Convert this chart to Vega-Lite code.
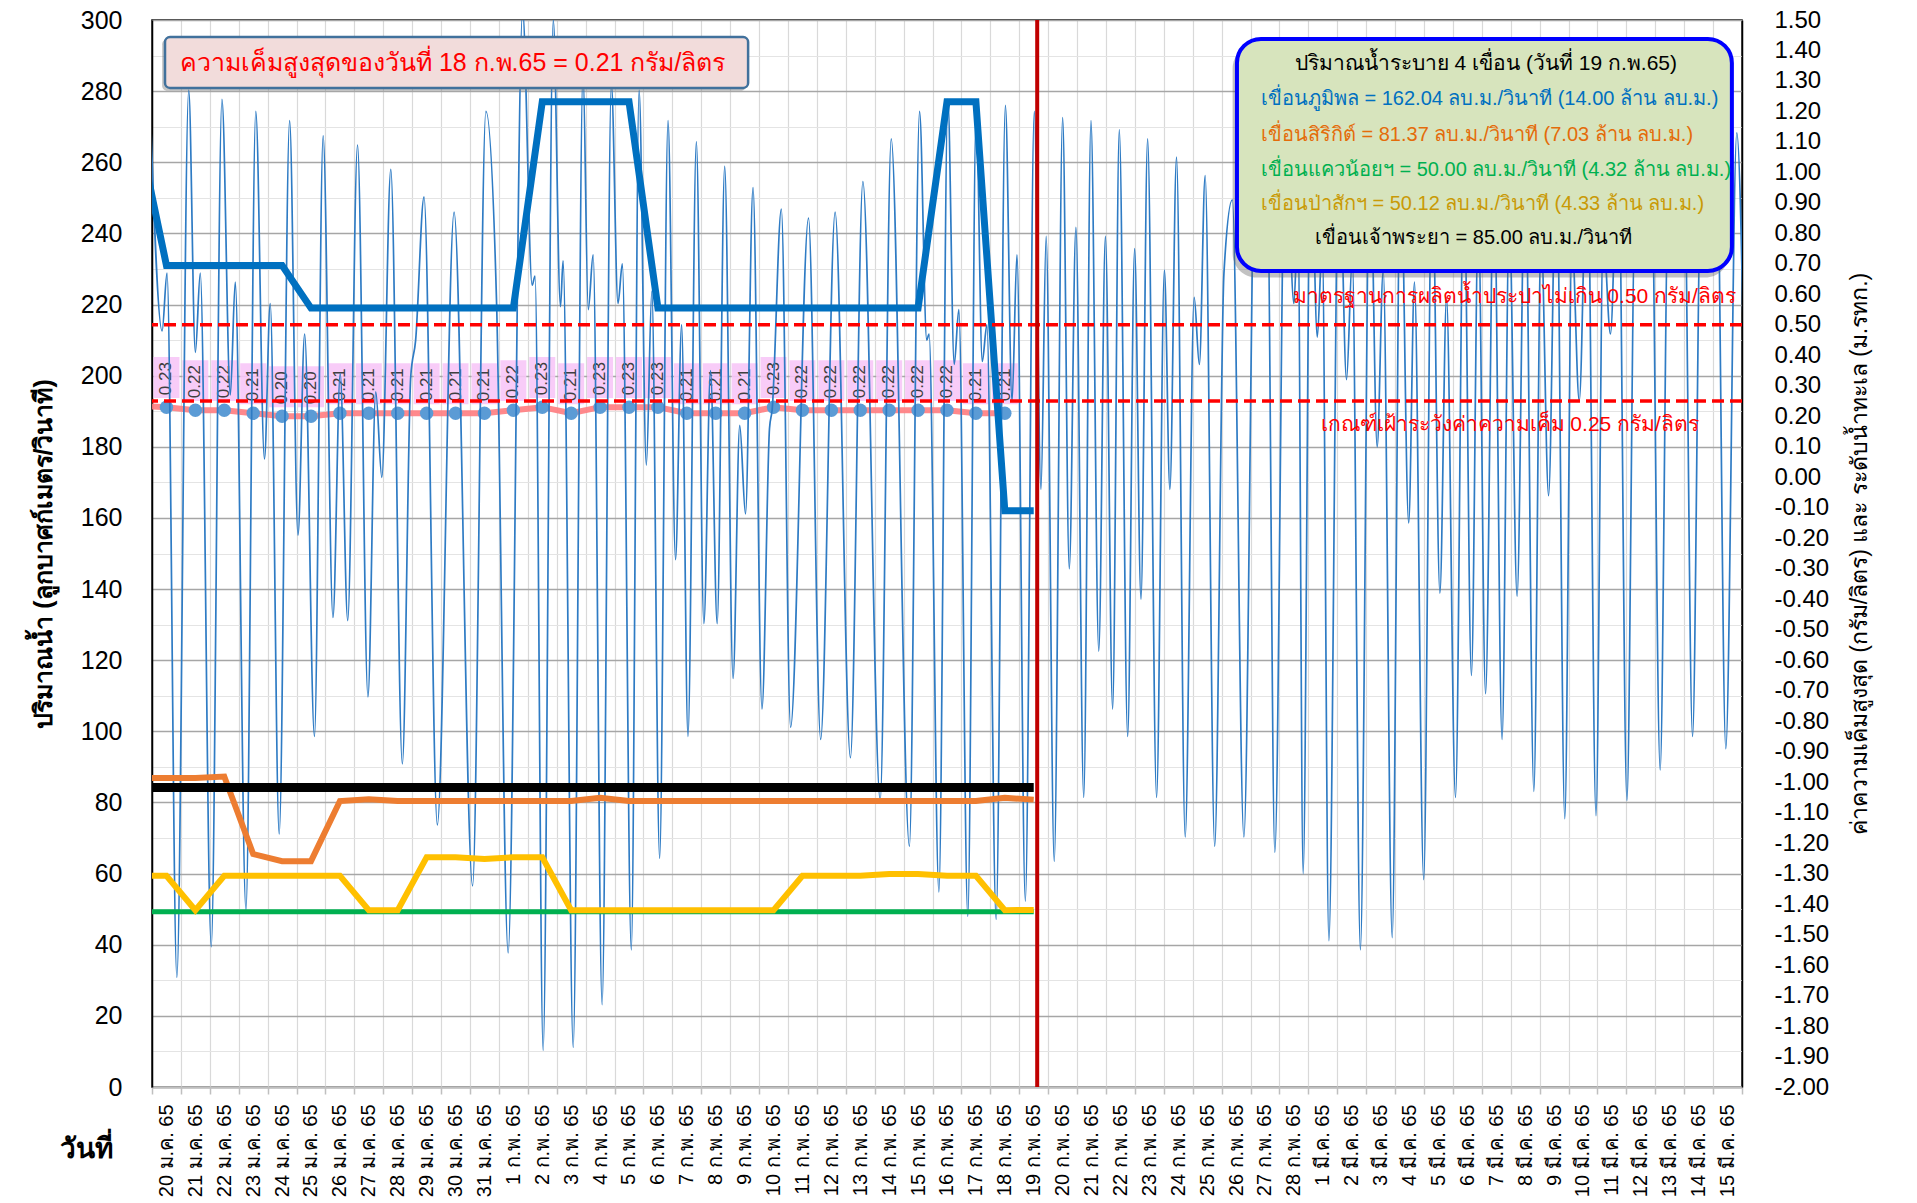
{
  "$schema": "https://vega.github.io/schema/vega-lite/v6.json",
  "width": 1590,
  "height": 1067,
  "autosize": {"type": "none"},
  "padding": {"left": 152, "top": 20, "right": 175, "bottom": 116},
  "background": "white",
  "config": {
    "font": "Liberation Sans",
    "view": {"stroke": "#000", "strokeWidth": 1.5},
    "axis": {"labelFont": "Liberation Sans", "titleFont": "Liberation Sans", "labelOverlap": false, "labelFlush": false, "labelBound": false, "labelSeparation": 0}
  },
  "datasets": {
    "daily": [
      {"day": -0.5, "bp": 270, "sk": 86.9, "kn": 49.3, "ps": 59.4, "cp": 84.2, "sal": 0.235},
      {"day": 0.5, "bp": 231, "sk": 86.9, "kn": 49.3, "ps": 59.4, "cp": 84.2, "sal": 0.23},
      {"day": 1.5, "bp": 231, "sk": 86.9, "kn": 49.3, "ps": 49.7, "cp": 84.2, "sal": 0.22},
      {"day": 2.5, "bp": 231, "sk": 87.3, "kn": 49.3, "ps": 59.4, "cp": 84.2, "sal": 0.22},
      {"day": 3.5, "bp": 231, "sk": 65.5, "kn": 49.3, "ps": 59.4, "cp": 84.2, "sal": 0.21},
      {"day": 4.5, "bp": 231, "sk": 63.5, "kn": 49.3, "ps": 59.4, "cp": 84.2, "sal": 0.20},
      {"day": 5.5, "bp": 219, "sk": 63.5, "kn": 49.3, "ps": 59.4, "cp": 84.2, "sal": 0.20},
      {"day": 6.5, "bp": 219, "sk": 80.4, "kn": 49.3, "ps": 59.4, "cp": 84.2, "sal": 0.21},
      {"day": 7.5, "bp": 219, "sk": 80.9, "kn": 49.3, "ps": 49.7, "cp": 84.2, "sal": 0.21},
      {"day": 8.5, "bp": 219, "sk": 80.4, "kn": 49.3, "ps": 49.7, "cp": 84.2, "sal": 0.21},
      {"day": 9.5, "bp": 219, "sk": 80.4, "kn": 49.3, "ps": 64.6, "cp": 84.2, "sal": 0.21},
      {"day": 10.5, "bp": 219, "sk": 80.4, "kn": 49.3, "ps": 64.6, "cp": 84.2, "sal": 0.21},
      {"day": 11.5, "bp": 219, "sk": 80.4, "kn": 49.3, "ps": 64.1, "cp": 84.2, "sal": 0.21},
      {"day": 12.5, "bp": 219, "sk": 80.4, "kn": 49.3, "ps": 64.6, "cp": 84.2, "sal": 0.22},
      {"day": 13.5, "bp": 277, "sk": 80.4, "kn": 49.3, "ps": 64.6, "cp": 84.2, "sal": 0.23},
      {"day": 14.5, "bp": 277, "sk": 80.4, "kn": 49.3, "ps": 49.7, "cp": 84.2, "sal": 0.21},
      {"day": 15.5, "bp": 277, "sk": 81.3, "kn": 49.3, "ps": 49.7, "cp": 84.2, "sal": 0.23},
      {"day": 16.5, "bp": 277, "sk": 80.4, "kn": 49.3, "ps": 49.7, "cp": 84.2, "sal": 0.23},
      {"day": 17.5, "bp": 219, "sk": 80.4, "kn": 49.3, "ps": 49.7, "cp": 84.2, "sal": 0.23},
      {"day": 18.5, "bp": 219, "sk": 80.4, "kn": 49.3, "ps": 49.7, "cp": 84.2, "sal": 0.21},
      {"day": 19.5, "bp": 219, "sk": 80.4, "kn": 49.3, "ps": 49.7, "cp": 84.2, "sal": 0.21},
      {"day": 20.5, "bp": 219, "sk": 80.4, "kn": 49.3, "ps": 49.7, "cp": 84.2, "sal": 0.21},
      {"day": 21.5, "bp": 219, "sk": 80.4, "kn": 49.3, "ps": 49.7, "cp": 84.2, "sal": 0.23},
      {"day": 22.5, "bp": 219, "sk": 80.4, "kn": 49.3, "ps": 59.4, "cp": 84.2, "sal": 0.22},
      {"day": 23.5, "bp": 219, "sk": 80.4, "kn": 49.3, "ps": 59.4, "cp": 84.2, "sal": 0.22},
      {"day": 24.5, "bp": 219, "sk": 80.4, "kn": 49.3, "ps": 59.4, "cp": 84.2, "sal": 0.22},
      {"day": 25.5, "bp": 219, "sk": 80.4, "kn": 49.3, "ps": 59.9, "cp": 84.2, "sal": 0.22},
      {"day": 26.5, "bp": 219, "sk": 80.4, "kn": 49.3, "ps": 59.9, "cp": 84.2, "sal": 0.22},
      {"day": 27.5, "bp": 277, "sk": 80.4, "kn": 49.3, "ps": 59.4, "cp": 84.2, "sal": 0.22},
      {"day": 28.5, "bp": 277, "sk": 80.4, "kn": 49.3, "ps": 59.4, "cp": 84.2, "sal": 0.21},
      {"day": 29.5, "bp": 162, "sk": 81.3, "kn": 49.3, "ps": 49.7, "cp": 84.2, "sal": 0.21},
      {"day": 30.5, "bp": 162.04, "sk": 80.8, "kn": 49.3, "ps": 49.8, "cp": 84.2, "sal": null}
    ],
    "tide": [
      {"day": -0.1, "lvl": 1.32}, {"day": 0.35, "lvl": 0.48}, {"day": 0.52, "lvl": 0.67}, {"day": 0.86, "lvl": -1.64},
      {"day": 1.27, "lvl": 1.27}, {"day": 1.5, "lvl": 0.41}, {"day": 1.67, "lvl": 0.67}, {"day": 2.05, "lvl": -1.54},
      {"day": 2.42, "lvl": 1.24}, {"day": 2.71, "lvl": 0.27}, {"day": 2.88, "lvl": 0.64}, {"day": 3.25, "lvl": -1.42},
      {"day": 3.59, "lvl": 1.2}, {"day": 3.89, "lvl": 0.06}, {"day": 4.09, "lvl": 0.57}, {"day": 4.4, "lvl": -1.17},
      {"day": 4.76, "lvl": 1.17}, {"day": 5.05, "lvl": -0.19}, {"day": 5.28, "lvl": 0.47}, {"day": 5.62, "lvl": -0.85},
      {"day": 5.92, "lvl": 1.12}, {"day": 6.26, "lvl": -0.46}, {"day": 6.51, "lvl": 0.34}, {"day": 6.77, "lvl": -0.47},
      {"day": 7.11, "lvl": 1.09}, {"day": 7.47, "lvl": -0.72}, {"day": 7.74, "lvl": 0.28}, {"day": 7.95, "lvl": 0.0},
      {"day": 8.26, "lvl": 1.01}, {"day": 8.66, "lvl": -0.94}, {"day": 8.95, "lvl": 0.33}, {"day": 9.12, "lvl": 0.45},
      {"day": 9.41, "lvl": 0.92}, {"day": 9.87, "lvl": -1.14}, {"day": 10.45, "lvl": 0.87}, {"day": 11.09, "lvl": -1.34},
      {"day": 11.55, "lvl": 1.2}, {"day": 11.92, "lvl": 0.57}, {"day": 12.32, "lvl": -1.56}, {"day": 12.82, "lvl": 1.53},
      {"day": 13.15, "lvl": 0.63}, {"day": 13.25, "lvl": 0.66}, {"day": 13.53, "lvl": -1.88}, {"day": 13.88, "lvl": 1.5},
      {"day": 14.13, "lvl": 0.56}, {"day": 14.22, "lvl": 0.71}, {"day": 14.57, "lvl": -1.87}, {"day": 14.91, "lvl": 1.33},
      {"day": 15.09, "lvl": 0.55}, {"day": 15.26, "lvl": 0.73}, {"day": 15.57, "lvl": -1.73}, {"day": 15.89, "lvl": 1.29},
      {"day": 16.12, "lvl": 0.57}, {"day": 16.27, "lvl": 0.7}, {"day": 16.58, "lvl": -1.55}, {"day": 16.85, "lvl": 1.27},
      {"day": 17.1, "lvl": 0.04}, {"day": 17.29, "lvl": 0.61}, {"day": 17.56, "lvl": -1.25}, {"day": 17.85, "lvl": 1.17},
      {"day": 18.11, "lvl": -0.27}, {"day": 18.32, "lvl": 0.5}, {"day": 18.54, "lvl": -0.85}, {"day": 18.83, "lvl": 1.1},
      {"day": 19.09, "lvl": -0.48}, {"day": 19.32, "lvl": 0.35}, {"day": 19.55, "lvl": -0.48}, {"day": 19.81, "lvl": 1.02},
      {"day": 20.1, "lvl": -0.66}, {"day": 20.33, "lvl": 0.17}, {"day": 20.53, "lvl": -0.12}, {"day": 20.79, "lvl": 0.95},
      {"day": 21.1, "lvl": -0.76}, {"day": 21.36, "lvl": 0.16}, {"day": 21.45, "lvl": 0.22}, {"day": 21.77, "lvl": 0.88},
      {"day": 22.09, "lvl": -0.82}, {"day": 22.71, "lvl": 0.85}, {"day": 23.13, "lvl": -0.86}, {"day": 23.63, "lvl": 0.87},
      {"day": 24.16, "lvl": -0.92}, {"day": 24.59, "lvl": 0.97}, {"day": 25.19, "lvl": -1.06}, {"day": 25.57, "lvl": 1.11},
      {"day": 26.2, "lvl": -1.21}, {"day": 26.55, "lvl": 1.2}, {"day": 26.8, "lvl": 0.45}, {"day": 26.88, "lvl": 0.47},
      {"day": 27.22, "lvl": -1.36}, {"day": 27.53, "lvl": 1.24}, {"day": 27.75, "lvl": 0.37}, {"day": 27.91, "lvl": 0.55},
      {"day": 28.22, "lvl": -1.44}, {"day": 28.51, "lvl": 1.2}, {"day": 28.72, "lvl": 0.38}, {"day": 28.88, "lvl": 0.5},
      {"day": 29.2, "lvl": -1.45}, {"day": 29.52, "lvl": 1.22}, {"day": 29.75, "lvl": 0.25}, {"day": 29.92, "lvl": 0.73},
      {"day": 30.21, "lvl": -1.39}, {"day": 30.52, "lvl": 1.2}, {"day": 30.75, "lvl": -0.04}, {"day": 30.93, "lvl": 0.79},
      {"day": 31.21, "lvl": -1.26}, {"day": 31.5, "lvl": 1.18}, {"day": 31.73, "lvl": -0.3}, {"day": 31.96, "lvl": 0.82},
      {"day": 32.23, "lvl": -1.05}, {"day": 32.48, "lvl": 1.17}, {"day": 32.75, "lvl": -0.57}, {"day": 32.98, "lvl": 0.79},
      {"day": 33.23, "lvl": -0.76}, {"day": 33.46, "lvl": 1.14}, {"day": 33.75, "lvl": -0.85}, {"day": 33.99, "lvl": 0.75},
      {"day": 34.21, "lvl": -0.4}, {"day": 34.44, "lvl": 1.11}, {"day": 34.75, "lvl": -1.05}, {"day": 35.02, "lvl": 0.68},
      {"day": 35.21, "lvl": -0.04}, {"day": 35.44, "lvl": 1.05}, {"day": 35.74, "lvl": -1.18}, {"day": 36.05, "lvl": 0.59},
      {"day": 36.23, "lvl": 0.37}, {"day": 36.43, "lvl": 0.99}, {"day": 36.76, "lvl": -1.21}, {"day": 37.08, "lvl": 0.67},
      {"day": 37.37, "lvl": 0.91}, {"day": 37.77, "lvl": -1.18}, {"day": 38.18, "lvl": 1.18}, {"day": 38.46, "lvl": 0.77},
      {"day": 38.58, "lvl": 0.95}, {"day": 38.84, "lvl": -1.23}, {"day": 39.21, "lvl": 1.18}, {"day": 39.5, "lvl": 0.57},
      {"day": 39.64, "lvl": 0.84}, {"day": 39.82, "lvl": -1.3}, {"day": 40.08, "lvl": 1.13}, {"day": 40.31, "lvl": 0.46},
      {"day": 40.48, "lvl": 0.77}, {"day": 40.71, "lvl": -1.52}, {"day": 41.06, "lvl": 1.11}, {"day": 41.32, "lvl": 0.32},
      {"day": 41.52, "lvl": 0.72}, {"day": 41.8, "lvl": -1.55}, {"day": 42.13, "lvl": 1.09}, {"day": 42.38, "lvl": 0.1},
      {"day": 42.59, "lvl": 0.68}, {"day": 42.9, "lvl": -1.51}, {"day": 43.19, "lvl": 1.06}, {"day": 43.47, "lvl": -0.15},
      {"day": 43.67, "lvl": 0.64}, {"day": 43.99, "lvl": -1.32}, {"day": 44.28, "lvl": 1.04}, {"day": 44.55, "lvl": -0.38},
      {"day": 44.78, "lvl": 0.59}, {"day": 45.09, "lvl": -1.05}, {"day": 45.38, "lvl": 1.0}, {"day": 45.64, "lvl": -0.65},
      {"day": 45.88, "lvl": 0.85}, {"day": 46.13, "lvl": -0.71}, {"day": 46.42, "lvl": 1.0}, {"day": 46.7, "lvl": -0.86},
      {"day": 46.95, "lvl": 0.85}, {"day": 47.22, "lvl": -0.39}, {"day": 47.5, "lvl": 1.05}, {"day": 47.8, "lvl": -1.03},
      {"day": 48.05, "lvl": 0.8}, {"day": 48.31, "lvl": -0.06}, {"day": 48.58, "lvl": 1.08}, {"day": 48.87, "lvl": -1.12},
      {"day": 49.12, "lvl": 0.78}, {"day": 49.37, "lvl": 0.25}, {"day": 49.65, "lvl": 1.1}, {"day": 49.95, "lvl": -1.11},
      {"day": 50.2, "lvl": 0.8}, {"day": 50.45, "lvl": 0.47}, {"day": 50.72, "lvl": 1.12}, {"day": 51.02, "lvl": -1.06},
      {"day": 51.3, "lvl": 0.85}, {"day": 51.55, "lvl": 0.75}, {"day": 51.85, "lvl": 1.12}, {"day": 52.17, "lvl": -0.96},
      {"day": 52.45, "lvl": 0.9}, {"day": 52.7, "lvl": 0.75}, {"day": 52.98, "lvl": 1.15}, {"day": 53.29, "lvl": -0.85},
      {"day": 53.58, "lvl": 0.95}, {"day": 53.85, "lvl": 0.8}, {"day": 54.12, "lvl": 1.15}, {"day": 54.44, "lvl": -0.89},
      {"day": 54.82, "lvl": 1.13}, {"day": 55.1, "lvl": 0.2}
    ]
  },
  "layer": [
    {
      "layer": [
        {
          "data": {"name": "daily"},
          "mark": {"type": "point", "shape": "M-1,-3.85L1,-3.85L1,-0.7L-1,-0.7Z", "filled": true, "color": "#f7c6f7", "opacity": 0.9, "size": 676, "strokeWidth": 0, "clip": true},
          "encoding": {
            "x": {"field": "day", "type": "quantitative", "scale": {"domain": [0, 55], "nice": false, "zero": false}},
            "y": {"field": "sal", "type": "quantitative", "scale": {"domain": [-2, 1.5], "nice": false, "zero": false}}
          }
        },
        {
          "data": {"name": "daily"},
          "mark": {"type": "text", "angle": 270, "align": "left", "baseline": "middle", "dx": 12, "fontSize": 17, "color": "#404040", "clip": true},
          "encoding": {
            "x": {"field": "day", "type": "quantitative"},
            "y": {"field": "sal", "type": "quantitative"},
            "text": {"field": "sal", "type": "quantitative", "format": ".2f"}
          }
        },
        {
          "data": {"name": "daily"},
          "mark": {"type": "line", "color": "#ff7c80", "strokeWidth": 6, "opacity": 0.9, "clip": true},
          "encoding": {
            "x": {"field": "day", "type": "quantitative"},
            "y": {"field": "sal", "type": "quantitative"}
          }
        },
        {
          "data": {"name": "daily"},
          "mark": {"type": "point", "filled": true, "color": "#5b9bd5", "size": 180, "opacity": 1, "clip": true},
          "encoding": {
            "x": {"field": "day", "type": "quantitative"},
            "y": {"field": "sal", "type": "quantitative"}
          }
        },
        {
          "data": {"name": "tide"},
          "mark": {"type": "line", "color": "#2e7bc4", "strokeWidth": 1.7, "interpolate": "monotone", "clip": true},
          "encoding": {
            "x": {
              "field": "day", "type": "quantitative",
              "axis": {
                "values": [0,1,2,3,4,5,6,7,8,9,10,11,12,13,14,15,16,17,18,19,20,21,22,23,24,25,26,27,28,29,30,31,32,33,34,35,36,37,38,39,40,41,42,43,44,45,46,47,48,49,50,51,52,53,54,55],
                "tickCount": 200,
                "labelExpr": "datum.value >= 55 ? '' : datum.value < 12 ? (20 + datum.value) + ' ม.ค. 65' : datum.value < 40 ? (datum.value - 11) + ' ก.พ. 65' : (datum.value - 39) + ' มี.ค. 65'",
                "labelAngle": 270, "labelAlign": "right", "labelBaseline": "middle", "labelOffset": 14.45,
                "labelFontSize": 20, "labelColor": "#000", "labelPadding": 10, "labelOverlap": false, "labelFlush": false, "labelBound": false,
                "ticks": true, "tickColor": "#bfbfbf", "tickSize": 7, "tickWidth": 1.5,
                "domain": true, "domainColor": "#bfbfbf", "domainWidth": 2.5,
                "grid": true, "gridColor": "#d9d9d9", "gridWidth": 1.2,
                "title": "วันที่", "titleFontSize": 28, "titleFontWeight": "bold", "titleColor": "#000",
                "titleAnchor": "start", "titleAngle": 0, "titleAlign": "center", "titleBaseline": "middle", "titleX": -66, "titleY": 62
              }
            },
            "y": {
              "field": "lvl", "type": "quantitative",
              "axis": {
                "orient": "right",
                "values": [-2,-1.9,-1.8,-1.7,-1.6,-1.5,-1.4,-1.3,-1.2,-1.1,-1,-0.9,-0.8,-0.7,-0.6,-0.5,-0.4,-0.3,-0.2,-0.1,0,0.1,0.2,0.3,0.4,0.5,0.6,0.7,0.8,0.9,1,1.1,1.2,1.3,1.4,1.5],
                "tickCount": 200,
                "format": ".2f", "labelExpr": "replace(datum.label, '−', '-')",
                "ticks": false, "grid": false, "domain": true, "domainColor": "#000", "domainWidth": 1.5,
                "labelFontSize": 24, "labelColor": "#000", "labelPadding": 32, "labelOverlap": false, "labelFlush": false,
                "title": "ค่าความเค็มสูงสุด   (กรัม/ลิตร) และ ระดับน้ำทะเล   (ม.รทก.)",
                "titleAngle": 270, "titleBaseline": "top", "titleFontSize": 23, "titleFontWeight": "normal", "titleColor": "#000", "titlePadding": 20
              }
            }
          }
        }
      ]
    },
    {
      "layer": [
        {
          "data": {"name": "daily"},
          "mark": {"type": "line", "color": "#00b050", "strokeWidth": 5, "clip": true},
          "encoding": {
            "x": {"field": "day", "type": "quantitative"},
            "y": {
              "field": "kn", "type": "quantitative", "scale": {"domain": [0, 300], "nice": false, "zero": true},
              "axis": {
                "orient": "left",
                "values": [0,10,20,30,40,50,60,70,80,90,100,110,120,130,140,150,160,170,180,190,200,210,220,230,240,250,260,270,280,290,300],
                "tickCount": 200,
                "labelExpr": "datum.value % 20 === 0 ? datum.label : ''",
                "ticks": false, "grid": true,
                "gridColor": {"condition": {"test": "datum.value % 20 === 0", "value": "#a6a6a6"}, "value": "#e4e4e4"},
                "gridWidth": {"condition": {"test": "datum.value % 20 === 0", "value": 1.6}, "value": 1},
                "domain": true, "domainColor": "#000", "domainWidth": 1.5,
                "labelFontSize": 25, "labelColor": "#000", "labelPadding": 30, "labelOverlap": false, "labelFlush": false,
                "title": "ปริมาณน้ำ (ลูกบาศก์เมตร/วินาที)", "titleFontSize": 25, "titleFontWeight": "bold", "titleColor": "#000", "titlePadding": 24
              }
            }
          }
        },
        {
          "data": {"name": "daily"},
          "mark": {"type": "line", "color": "#ffc000", "strokeWidth": 6, "clip": true},
          "encoding": {
            "x": {"field": "day", "type": "quantitative"},
            "y": {"field": "ps", "type": "quantitative"}
          }
        },
        {
          "data": {"name": "daily"},
          "mark": {"type": "line", "color": "#ed7d31", "strokeWidth": 6, "clip": true},
          "encoding": {
            "x": {"field": "day", "type": "quantitative"},
            "y": {"field": "sk", "type": "quantitative"}
          }
        },
        {
          "data": {"name": "daily"},
          "mark": {"type": "line", "color": "#000000", "strokeWidth": 9, "clip": true},
          "encoding": {
            "x": {"field": "day", "type": "quantitative"},
            "y": {"field": "cp", "type": "quantitative"}
          }
        },
        {
          "data": {"name": "daily"},
          "mark": {"type": "line", "color": "#0070c0", "strokeWidth": 7, "clip": true},
          "encoding": {
            "x": {"field": "day", "type": "quantitative"},
            "y": {"field": "bp", "type": "quantitative"}
          }
        },
        {
          "data": {"values": [{}]},
          "mark": {"type": "rect", "fill": "#7f7f7f", "opacity": 0.45, "cornerRadius": 5},
          "encoding": {
            "x": {"datum": 0.35, "type": "quantitative"},
            "x2": {"datum": 20.55},
            "y": {"datum": 294.6, "type": "quantitative"},
            "y2": {"datum": 280.1}
          }
        },
        {
          "data": {"values": [{}]},
          "mark": {"type": "rect", "fill": "#f2dcdb", "stroke": "#41719c", "strokeWidth": 2.5, "cornerRadius": 5},
          "encoding": {
            "x": {"datum": 0.45, "type": "quantitative"},
            "x2": {"datum": 20.62},
            "y": {"datum": 295.2, "type": "quantitative"},
            "y2": {"datum": 280.9}
          }
        },
        {
          "data": {"values": [{}]},
          "mark": {"type": "text", "text": "ความเค็มสูงสุดของวันที่ 18 ก.พ.65 = 0.21 กรัม/ลิตร", "color": "#ff0000", "fontSize": 25, "align": "center", "baseline": "middle"},
          "encoding": {
            "x": {"datum": 10.4, "type": "quantitative"},
            "y": {"datum": 288.05, "type": "quantitative"}
          }
        }
      ]
    },
    {
      "layer": [
        {
          "data": {"values": [{}]},
          "mark": {"type": "rule", "color": "#ff0000", "strokeWidth": 3.5, "strokeDash": [12, 6]},
          "encoding": {
            "y": {"datum": 0.5, "type": "quantitative", "scale": {"domain": [-2, 1.5], "nice": false, "zero": false}, "axis": null}
          }
        },
        {
          "data": {"values": [{}]},
          "mark": {"type": "rule", "color": "#ff0000", "strokeWidth": 3.5, "strokeDash": [12, 6]},
          "encoding": {
            "y": {"datum": 0.25, "type": "quantitative", "axis": null}
          }
        },
        {
          "data": {"values": [{}]},
          "mark": {"type": "text", "text": "มาตรฐานการผลิตน้ำประปาไม่เกิน 0.50 กรัม/ลิตร", "color": "#ff0000", "fontSize": 21, "align": "right", "baseline": "middle"},
          "encoding": {
            "x": {"datum": 54.79, "type": "quantitative"},
            "y": {"datum": 0.591, "type": "quantitative", "axis": null}
          }
        },
        {
          "data": {"values": [{}]},
          "mark": {"type": "text", "text": "เกณฑ์เฝ้าระวังค่าความเค็ม 0.25 กรัม/ลิตร", "color": "#ff0000", "fontSize": 21, "align": "right", "baseline": "middle"},
          "encoding": {
            "x": {"datum": 53.51, "type": "quantitative"},
            "y": {"datum": 0.17, "type": "quantitative", "axis": null}
          }
        },
        {
          "data": {"values": [{}]},
          "mark": {"type": "rule", "color": "#c00000", "strokeWidth": 4},
          "encoding": {
            "x": {"datum": 30.62, "type": "quantitative"}
          }
        },
        {
          "data": {"values": [{}]},
          "mark": {"type": "rect", "fill": "#666666", "opacity": 0.4, "cornerRadius": 24},
          "encoding": {
            "x": {"datum": 37.38, "type": "quantitative"},
            "x2": {"datum": 54.55},
            "y": {"datum": 1.42, "type": "quantitative", "axis": null},
            "y2": {"datum": 0.655}
          }
        },
        {
          "data": {"values": [{}]},
          "mark": {"type": "rect", "fill": "#d7e4bd", "stroke": "#0000ff", "strokeWidth": 4, "cornerRadius": 24},
          "encoding": {
            "x": {"datum": 37.53, "type": "quantitative"},
            "x2": {"datum": 54.65},
            "y": {"datum": 1.438, "type": "quantitative", "axis": null},
            "y2": {"datum": 0.677}
          }
        },
        {
          "data": {"values": [{}]},
          "mark": {"type": "text", "text": "ปริมาณน้ำระบาย 4 เขื่อน (วันที่ 19 ก.พ.65)", "color": "#000000", "fontSize": 21, "align": "center", "baseline": "middle"},
          "encoding": {
            "x": {"datum": 46.14, "type": "quantitative"},
            "y": {"datum": 1.356, "type": "quantitative", "axis": null}
          }
        },
        {
          "data": {"values": [{}]},
          "mark": {"type": "text", "text": "เขื่อนภูมิพล = 162.04 ลบ.ม./วินาที  (14.00 ล้าน ลบ.ม.)", "color": "#0070c0", "fontSize": 20, "align": "left", "baseline": "middle"},
          "encoding": {
            "x": {"datum": 38.36, "type": "quantitative"},
            "y": {"datum": 1.241, "type": "quantitative", "axis": null}
          }
        },
        {
          "data": {"values": [{}]},
          "mark": {"type": "text", "text": "เขื่อนสิริกิต์  = 81.37 ลบ.ม./วินาที  (7.03 ล้าน ลบ.ม.)", "color": "#e46c0a", "fontSize": 20, "align": "left", "baseline": "middle"},
          "encoding": {
            "x": {"datum": 38.36, "type": "quantitative"},
            "y": {"datum": 1.124, "type": "quantitative", "axis": null}
          }
        },
        {
          "data": {"values": [{}]},
          "mark": {"type": "text", "text": "เขื่อนแควน้อยฯ = 50.00 ลบ.ม./วินาที (4.32 ล้าน ลบ.ม.)", "color": "#00b050", "fontSize": 20, "align": "left", "baseline": "middle"},
          "encoding": {
            "x": {"datum": 38.36, "type": "quantitative"},
            "y": {"datum": 1.008, "type": "quantitative", "axis": null}
          }
        },
        {
          "data": {"values": [{}]},
          "mark": {"type": "text", "text": "เขื่อนป่าสักฯ = 50.12 ลบ.ม./วินาที (4.33 ล้าน ลบ.ม.)", "color": "#c99a06", "fontSize": 20, "align": "left", "baseline": "middle"},
          "encoding": {
            "x": {"datum": 38.36, "type": "quantitative"},
            "y": {"datum": 0.896, "type": "quantitative", "axis": null}
          }
        },
        {
          "data": {"values": [{}]},
          "mark": {"type": "text", "text": "เขื่อนเจ้าพระยา = 85.00 ลบ.ม./วินาที", "color": "#000000", "fontSize": 20, "align": "left", "baseline": "middle"},
          "encoding": {
            "x": {"datum": 40.23, "type": "quantitative"},
            "y": {"datum": 0.785, "type": "quantitative", "axis": null}
          }
        }
      ]
    }
  ],
  "resolve": {"scale": {"y": "independent"}}
}
